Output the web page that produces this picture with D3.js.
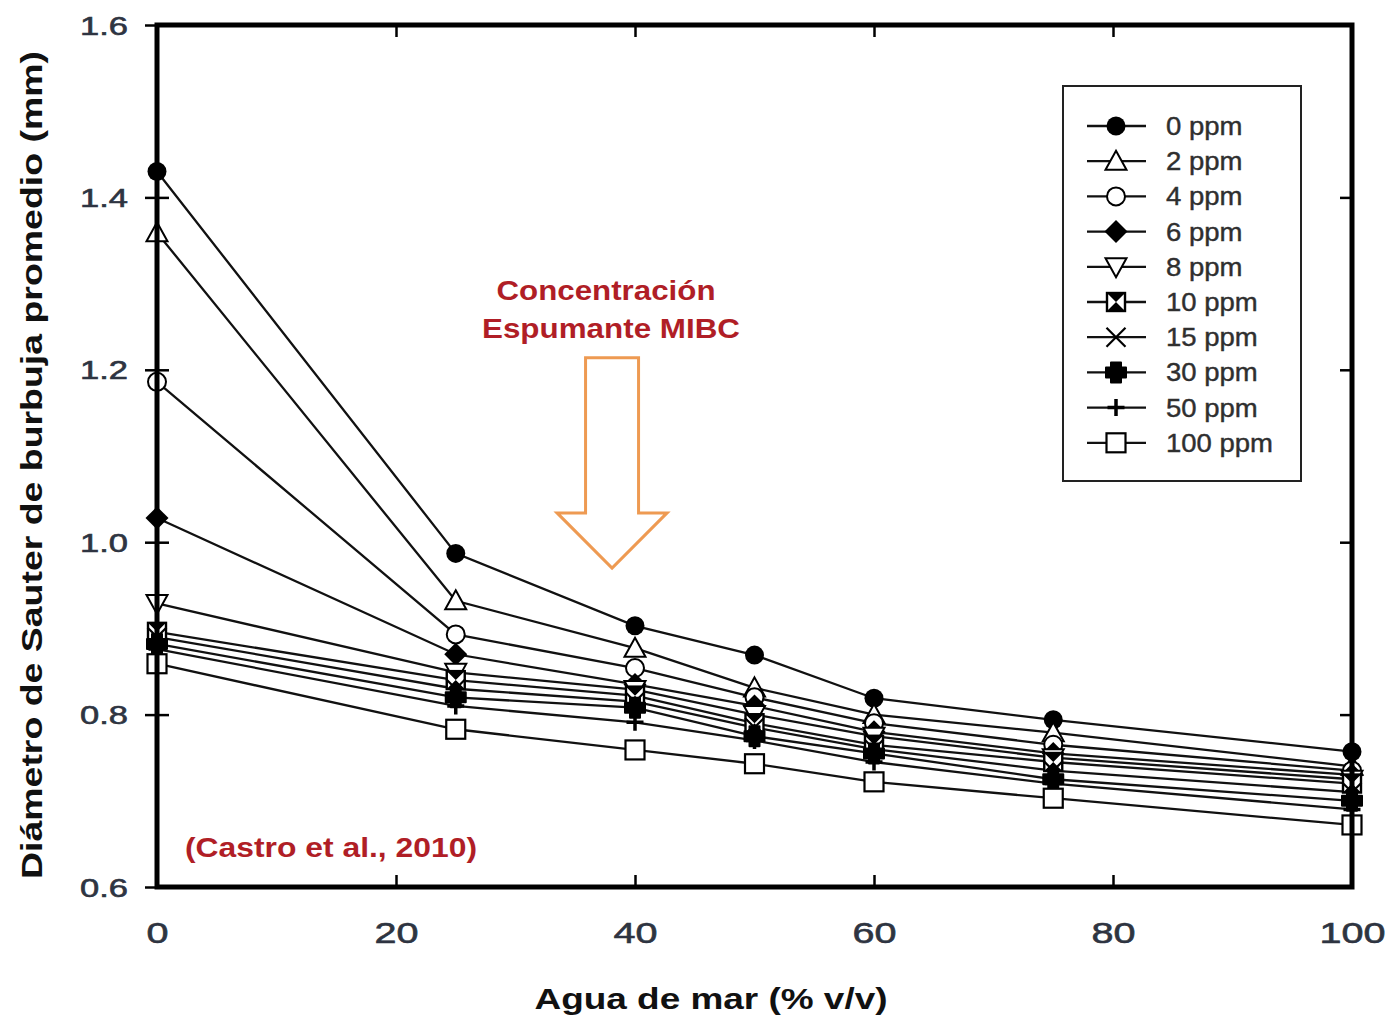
<!DOCTYPE html>
<html>
<head>
<meta charset="utf-8">
<script src="https://cdn.jsdelivr.net/npm/d3@7"></script>
<style>
  html, body { margin: 0; padding: 0; background: #fff; }
  svg { display: block; font-family: "Liberation Sans", Arial, sans-serif; }
</style>
</head>
<body>
<svg id="chart" width="1392" height="1018"></svg>
<script>
// Sauter mean bubble diameter vs. sea water fraction, one line per MIBC dose

const seaWater = [0, 25, 40, 50, 60, 75, 100];
const xTicks = [0, 20, 40, 60, 80, 100];
const yTicks = [0.6, 0.8, 1.0, 1.2, 1.4, 1.6];

const ppm0   = [1.430, 0.987, 0.903, 0.869, 0.819, 0.794, 0.757];
const ppm2   = [1.359, 0.932, 0.877, 0.831, 0.800, 0.779, 0.740];
const ppm4   = [1.186, 0.893, 0.854, 0.820, 0.790, 0.765, 0.735];
const ppm6   = [1.028, 0.870, 0.835, 0.810, 0.780, 0.755, 0.730];
const ppm8   = [0.929, 0.849, 0.829, 0.800, 0.775, 0.750, 0.725];
const ppm10  = [0.896, 0.840, 0.822, 0.790, 0.765, 0.745, 0.720];
const ppm15  = [0.890, 0.830, 0.815, 0.785, 0.760, 0.735, 0.710];
const ppm30  = [0.882, 0.820, 0.808, 0.775, 0.755, 0.725, 0.700];
const ppm50  = [0.876, 0.810, 0.791, 0.770, 0.745, 0.720, 0.690];
const ppm100 = [0.859, 0.783, 0.759, 0.743, 0.722, 0.703, 0.672];

const seriesLabels = ['0 ppm', '2 ppm', '4 ppm', '6 ppm', '8 ppm', '10 ppm', '15 ppm', '30 ppm', '50 ppm', '100 ppm'];
const seriesValues = [ppm0, ppm2, ppm4, ppm6, ppm8, ppm10, ppm15, ppm30, ppm50, ppm100];
const seriesMarkers = ['dot', 'triUp', 'ring', 'diamond', 'triDown', 'hourglass', 'xmark', 'fatPlus', 'thinPlus', 'box'];

const RED = '#b01e26';
const ORANGE = '#ee9a52';
const TICK_TEXT = '#2e3441';

const svg = d3.select('#chart');
const plotL = 157, plotR = 1352, plotT = 25, plotB = 887;

const x = d3.scaleLinear().domain([0, 100]).range([plotL, plotR]);
const y = d3.scaleLinear().domain([0.6, 1.6]).range([plotB, plotT]);

// ---- ticks: inward on all four sides, short outward ones on the left ----
const tickStyle = (g) => {
    g.select('.domain').remove();
    g.selectAll('.tick line').attr('stroke', '#000').attr('stroke-width', 2.5);
};

svg.append('g').attr('transform', `translate(${plotL},0)`)
    .call(d3.axisLeft(y).tickValues(yTicks).tickSize(12).tickFormat(d3.format('.1f')))
    .call(tickStyle)
    .call((g) => g.selectAll('.tick text')
        .attr('fill', TICK_TEXT)
        .attr('stroke', TICK_TEXT).attr('stroke-width', 0.6)
        .attr('font-size', 25)
        .attr('x', -29 / 1.38)
        .attr('dy', '0.36em')
        .attr('transform', 'scale(1.38,1)'));

svg.append('g').attr('transform', `translate(${plotL},0)`)
    .call(d3.axisRight(y).tickValues(yTicks).tickSize(12).tickFormat(''))
    .call(tickStyle);
svg.append('g').attr('transform', `translate(${plotR},0)`)
    .call(d3.axisLeft(y).tickValues(yTicks).tickSize(12).tickFormat(''))
    .call(tickStyle);
svg.append('g').attr('transform', `translate(0,${plotT})`)
    .call(d3.axisBottom(x).tickValues(xTicks).tickSize(12).tickFormat(''))
    .call(tickStyle);
svg.append('g').attr('transform', `translate(0,${plotB})`)
    .call(d3.axisTop(x).tickValues(xTicks).tickSize(12).tickFormat(''))
    .call(tickStyle);

svg.append('g').attr('transform', `translate(0,${plotB})`)
    .call(d3.axisBottom(x).tickValues(xTicks).tickSize(0).tickFormat(d3.format('d')))
    .call((g) => g.select('.domain').remove())
    .call((g) => g.selectAll('.tick text')
        .attr('fill', TICK_TEXT)
        .attr('stroke', TICK_TEXT).attr('stroke-width', 0.6)
        .attr('font-size', 30)
        .attr('y', 56)
        .attr('dy', 0)
        .attr('transform', 'scale(1.32,1)'));

// ---- markers ----
function drawMarker(g, type, cx, cy) {
    const m = g.append('g').attr('transform', `translate(${cx},${cy})`);
    const sw = 2;
    switch (type) {
    case 'dot':
        m.append('circle').attr('r', 9.5).attr('fill', '#000');
        break;
    case 'ring':
        m.append('circle').attr('r', 9).attr('fill', '#fff').attr('stroke', '#000').attr('stroke-width', sw);
        break;
    case 'triUp':
        m.append('path').attr('d', 'M0,-10.5L10.5,8.5L-10.5,8.5Z').attr('fill', '#fff').attr('stroke', '#000').attr('stroke-width', sw);
        break;
    case 'triDown':
        m.append('path').attr('d', 'M0,10.5L10.5,-8.5L-10.5,-8.5Z').attr('fill', '#fff').attr('stroke', '#000').attr('stroke-width', sw);
        break;
    case 'diamond':
        m.append('path').attr('d', 'M0,-11.5L11.5,0L0,11.5L-11.5,0Z').attr('fill', '#000');
        break;
    case 'hourglass':
        m.append('rect').attr('x', -9).attr('y', -9).attr('width', 18).attr('height', 18)
            .attr('fill', '#fff').attr('stroke', '#000').attr('stroke-width', 2.4);
        m.append('path').attr('d', 'M-9,-9L9,-9L0,0ZM-9,9L9,9L0,0Z').attr('fill', '#000');
        break;
    case 'xmark':
        m.append('path').attr('d', 'M-9.5,-9.5L9.5,9.5M-9.5,9.5L9.5,-9.5').attr('stroke', '#000').attr('stroke-width', 2.2);
        break;
    case 'fatPlus':
        m.append('path')
            .attr('d', 'M-5,-10L5,-10L5,-5L10,-5L10,5L5,5L5,10L-5,10L-5,5L-10,5L-10,-5L-5,-5Z')
            .attr('fill', '#000').attr('stroke', '#000').attr('stroke-width', 2).attr('stroke-linejoin', 'round');
        break;
    case 'thinPlus':
        m.append('path').attr('d', 'M0,-8.5L0,8.5M-8.5,0L8.5,0').attr('stroke', '#000').attr('stroke-width', 3.5);
        break;
    case 'box':
        m.append('rect').attr('x', -9.5).attr('y', -9.5).attr('width', 19).attr('height', 19)
            .attr('fill', '#fff').attr('stroke', '#000').attr('stroke-width', 2.2);
        break;
    }
}

// ---- series ----
const line = d3.line().x((d) => x(d[0])).y((d) => y(d[1]));
const gSeries = svg.append('g');
seriesValues.forEach((vals) => {
    const pts = seaWater.map((s, j) => [s, vals[j]]);
    gSeries.append('path').datum(pts)
        .attr('d', line)
        .attr('fill', 'none')
        .attr('stroke', '#111')
        .attr('stroke-width', 2.3);
});
seriesValues.forEach((vals, i) => {
    seaWater.forEach((s, j) => drawMarker(gSeries, seriesMarkers[i], x(s), y(vals[j])));
});

// ---- frame ----
svg.append('rect')
    .attr('x', plotL).attr('y', plotT)
    .attr('width', plotR - plotL).attr('height', plotB - plotT)
    .attr('fill', 'none').attr('stroke', '#000').attr('stroke-width', 5);

// ---- legend ----
const legend = svg.append('g');
legend.append('rect')
    .attr('x', 1063).attr('y', 86).attr('width', 238).attr('height', 395)
    .attr('fill', '#fff').attr('stroke', '#222').attr('stroke-width', 2);
seriesLabels.forEach((label, i) => {
    const ry = 126 + i * 35.2;
    legend.append('line')
        .attr('x1', 1087).attr('x2', 1146).attr('y1', ry).attr('y2', ry)
        .attr('stroke', '#111').attr('stroke-width', 2.3);
    drawMarker(legend, seriesMarkers[i], 1116, ry);
    legend.append('text')
        .attr('x', 1166).attr('y', ry + 9)
        .attr('font-size', 25)
        .attr('fill', '#2f2f2f')
        .attr('stroke', '#2f2f2f').attr('stroke-width', 0.4)
        .attr('transform', `translate(${1166 * -0.1},0) scale(1.1,1)`)
        .text(label);
});

// ---- annotation ----
const ax = x(38.08);
const arrowTop = y(1.214), arrowNeck = y(1.034), arrowTip = y(0.970);
svg.append('path')
    .attr('d', `M${ax - 26.5},${arrowTop}L${ax + 26.5},${arrowTop}L${ax + 26.5},${arrowNeck}`
        + `L${ax + 55},${arrowNeck}L${ax},${arrowTip}L${ax - 55},${arrowNeck}L${ax - 26.5},${arrowNeck}Z`)
    .attr('fill', '#fff').attr('stroke', ORANGE).attr('stroke-width', 3);

svg.append('text')
    .attr('x', 606).attr('y', 300)
    .attr('text-anchor', 'middle')
    .attr('font-size', 27).attr('font-weight', 'bold').attr('fill', RED)
    .attr('textLength', 219).attr('lengthAdjust', 'spacingAndGlyphs')
    .text('Concentración');
svg.append('text')
    .attr('x', 611).attr('y', 338)
    .attr('text-anchor', 'middle')
    .attr('font-size', 27).attr('font-weight', 'bold').attr('fill', RED)
    .attr('textLength', 258).attr('lengthAdjust', 'spacingAndGlyphs')
    .text('Espumante MIBC');

svg.append('text')
    .attr('x', 185).attr('y', 857)
    .attr('font-size', 27).attr('font-weight', 'bold').attr('fill', RED)
    .attr('textLength', 292).attr('lengthAdjust', 'spacingAndGlyphs')
    .text('(Castro et al., 2010)');

// ---- axis titles ----
svg.append('text')
    .attr('x', 711).attr('y', 1009)
    .attr('text-anchor', 'middle')
    .attr('font-size', 30).attr('font-weight', 'bold').attr('fill', '#111')
    .attr('textLength', 353).attr('lengthAdjust', 'spacingAndGlyphs')
    .text('Agua de mar (% v/v)');

svg.append('text')
    .attr('transform', 'translate(42,465) rotate(-90)')
    .attr('text-anchor', 'middle')
    .attr('font-size', 29).attr('font-weight', 'bold').attr('fill', '#111')
    .attr('textLength', 828).attr('lengthAdjust', 'spacingAndGlyphs')
    .text('Diámetro de Sauter de burbuja  promedio (mm)');
</script>
</body>
</html>
